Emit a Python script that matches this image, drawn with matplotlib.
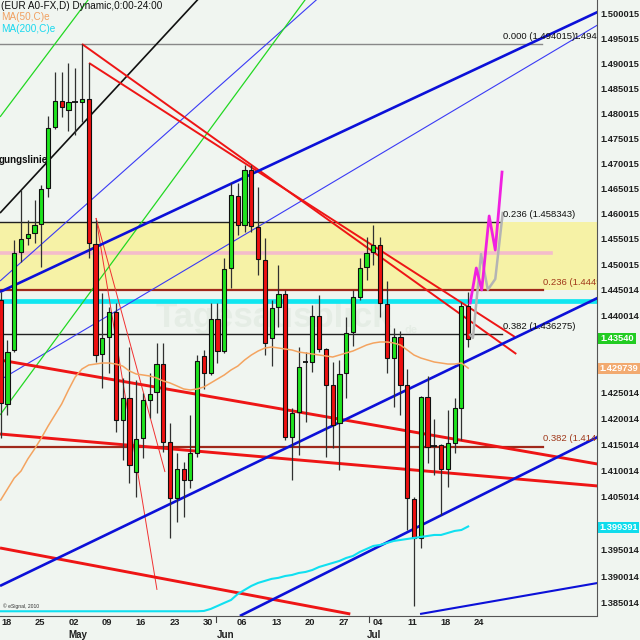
import numpy as np
import matplotlib
matplotlib.use('Agg')
import matplotlib.pyplot as plt
from matplotlib.ticker import NullLocator
from matplotlib.patches import Rectangle
import matplotlib.transforms as mtrans

plt.rcParams['font.family'] = ['Liberation Sans', 'DejaVu Sans']

# ---------------- data ----------------
opens = [1.4430, 1.4228, 1.4333, 1.4524, 1.4552, 1.4562, 1.4579, 1.4651, 1.4772, 1.4824,
         1.4806, 1.48225, 1.4822, 1.4828, 1.4540, 1.4325, 1.4358, 1.4407, 1.4197, 1.4240,
         1.4098, 1.4163, 1.4236, 1.4251, 1.4305, 1.4155, 1.4048, 1.4103, 1.4082, 1.4134,
         1.4321, 1.4288, 1.4393, 1.4331, 1.4493, 1.4635, 1.4577, 1.4686, 1.4573, 1.4508,
         1.4356, 1.4416, 1.4442, 1.4165, 1.4213, 1.43090, 1.4309, 1.4399, 1.4334, 1.4265,
         1.4192, 1.4288, 1.4368, 1.4436, 1.4495, 1.4524, 1.4538, 1.4422, 1.4317, 1.4358,
         1.4265, 1.4046, 1.3972, 1.4242, 1.41470, 1.4149, 1.4103, 1.4153, 1.4220, 1.4418]
highs = [1.4446, 1.4352, 1.4548, 1.4647, 1.4587, 1.4627, 1.4657, 1.4794, 1.4882, 1.4883,
         1.4901, 1.4891, 1.4939, 1.4901, 1.4587, 1.4444, 1.4416, 1.4424, 1.4278, 1.4338,
         1.4274, 1.4249, 1.4288, 1.4346, 1.4346, 1.4192, 1.4134, 1.4117, 1.4207, 1.4323,
         1.4333, 1.4424, 1.4424, 1.4512, 1.4661, 1.4661, 1.4696, 1.4696, 1.4653, 1.4552,
         1.4430, 1.4499, 1.4450, 1.4220, 1.4338, 1.4329, 1.4420, 1.4440, 1.4336, 1.4309,
         1.4313, 1.4397, 1.4450, 1.4512, 1.4554, 1.4577, 1.4554, 1.4467, 1.4375, 1.4370,
         1.4296, 1.4050, 1.4244, 1.4282, 1.4199, 1.4151, 1.4217, 1.4240, 1.4426, 1.4446]
lows = [1.4163, 1.4207, 1.4329, 1.4505, 1.4538, 1.4542, 1.4495, 1.4633, 1.4768, 1.4792,
        1.4764, 1.4756, 1.4782, 1.4512, 1.4309, 1.4259, 1.4288, 1.4174, 1.4121, 1.4077,
        1.4050, 1.4124, 1.4201, 1.4211, 1.4136, 1.3972, 1.4002, 1.4012, 1.4067, 1.4126,
        1.4257, 1.4284, 1.4307, 1.4327, 1.4454, 1.4558, 1.4564, 1.4564, 1.4479, 1.4323,
        1.4301, 1.4377, 1.4159, 1.4082, 1.4130, 1.4193, 1.4290, 1.4329, 1.4126, 1.4144,
        1.4101, 1.4240, 1.4340, 1.4430, 1.4469, 1.4499, 1.4397, 1.4288, 1.4222, 1.4207,
        1.3987, 1.3844, 1.3953, 1.4115, 1.4092, 1.4016, 1.4069, 1.4134, 1.4159, 1.4338]
closes = [1.4230, 1.4329, 1.4522, 1.4550, 1.4560, 1.4577, 1.4649, 1.4770, 1.4824, 1.4812,
          1.4822, 1.48215, 1.4828, 1.4542, 1.4323, 1.4356, 1.4407, 1.4197, 1.4240, 1.4111,
          1.4161, 1.4236, 1.4247, 1.4305, 1.4155, 1.4048, 1.4103, 1.4082, 1.4134, 1.4311,
          1.4288, 1.4393, 1.4331, 1.4491, 1.4637, 1.4577, 1.4686, 1.4575, 1.4510, 1.4346,
          1.4414, 1.4442, 1.4165, 1.4211, 1.4300, 1.43080, 1.4399, 1.4334, 1.4265, 1.4188,
          1.4286, 1.4366, 1.4436, 1.4493, 1.4522, 1.4538, 1.4424, 1.4317, 1.4358, 1.4265,
          1.4048, 1.3972, 1.4242, 1.4145, 1.41460, 1.4103, 1.4153, 1.4220, 1.4418, 1.4354]

ma50 = [1.40442, 1.40651, 1.40860, 1.40994, 1.41224, 1.41416, 1.41626, 1.41857, 1.42069, 1.42281,
        1.42551, 1.42802, 1.42957, 1.43034, 1.43053, 1.43073, 1.43073, 1.43053, 1.43014, 1.42918,
        1.42860, 1.42841, 1.42821, 1.42783, 1.42725, 1.42686, 1.42629, 1.42571, 1.42551, 1.42571,
        1.42609, 1.42686, 1.42764, 1.42841, 1.42938, 1.43014, 1.43131, 1.43228, 1.43306, 1.43364,
        1.43383, 1.43364, 1.43344, 1.43325, 1.43286, 1.43267, 1.43248, 1.43228, 1.43209, 1.43189,
        1.43228, 1.43267, 1.43306, 1.43364, 1.43422, 1.43461, 1.43481, 1.43481, 1.43461, 1.43422,
        1.43325, 1.43228, 1.43170, 1.43131, 1.43092, 1.43073, 1.43053, 1.43053, 1.43073, 1.42974]
ma200 = [1.3834] * 30 + [
        1.38346, 1.38384, 1.38440, 1.38497, 1.38552, 1.38665, 1.38741, 1.38816, 1.38873, 1.38911,
        1.38949, 1.38968, 1.39003, 1.39022, 1.39060, 1.39079, 1.39116, 1.39173, 1.39211, 1.39249,
        1.39287, 1.39343, 1.39381, 1.39456, 1.39513, 1.39570, 1.39589, 1.39627, 1.39664, 1.39683,
        1.39702, 1.39721, 1.39740, 1.39759, 1.39778, 1.39778, 1.39816, 1.39854, 1.39872, 1.39939]

date_labels = ['18', '25', '02', '09', '16', '23', '30', '06', '13', '20', '27', '04', '11', '18', '24']
date_pos = [0.80, 5.74, 10.75, 15.69, 20.68, 25.68, 30.60, 35.62, 40.68, 45.68, 50.63, 55.63, 60.74, 65.73, 70.51]
month_labels = ['May', 'Jun', 'Jul']
month_pos = [11.34, 33.21, 55.03]
month_sep = [31.78, 54.3]

y_ticks = [1.500015, 1.495015, 1.490015, 1.485015, 1.480015, 1.475015, 1.470015, 1.465015,
           1.460015, 1.455015, 1.450015, 1.445014, 1.440014, 1.435014, 1.430014, 1.425014,
           1.420014, 1.415014, 1.410014, 1.405014, 1.400014, 1.395014, 1.390014, 1.385014]
# labels hidden behind the price boxes on the axis are left empty
hidden_ticks = [1.435014, 1.430014, 1.400014]
y_tick_labels = ['' if v in hidden_ticks else '%.6f' % v for v in y_ticks]

# trendlines: (x0, p0, x1, p1)
thick_blue = [(-0.1, 1.44457, 88.1, 1.50042), (-0.1, 1.38816, 88.1, 1.44339),
              (35.3, 1.38252, 88.1, 1.41645)]
mid_blue = [(61.9, 1.38289, 88.1, 1.38871)]
thin_blue = [(-0.1, 1.42744, 88.1, 1.49778), (-0.1, 1.44671, 47.9, 1.50449)]
black_trend = [(-0.1, 1.46010, 30.4, 1.50490)]
green_trend = [(-0.1, 1.47924, 14.0, 1.50490), (-0.1, 1.42069, 46.0, 1.50490)]
red_mid = [(12.0, 1.49393, 76.1, 1.43248), (13.04, 1.49009, 75.9, 1.43579)]
red_thick = [(-0.1, 1.43131, 88.1, 1.41128), (-0.1, 1.41703, 88.1, 1.40709),
             (-0.1, 1.39532, 51.6, 1.38289)]
red_thin = [(14.07, 1.45912, 24.25, 1.40975), (14.07, 1.45912, 23.07, 1.38741)]

# horizontal levels
fib_zero = 1.49393
fib_236_hi = 1.458343
pink_level = 1.45227
fib_236_lo = 1.44490
cyan_level = 1.44286
fib_382_hi = 1.436275
fib_382_lo = 1.41460

proj_magenta_x = [69.3, 70.2, 71.0, 72.1, 73.0, 74.0]
proj_magenta_p = [1.44242, 1.44927, 1.44496, 1.45952, 1.45280, 1.46823]
proj_gray_x = [69.3, 69.7, 70.9, 71.9, 73.0, 74.1]
proj_gray_p = [1.4362, 1.4356, 1.4520, 1.4450, 1.4471, 1.4601]

last_price = '1.43540'
ma50_last = '1.429739'
ma200_last = '1.399391'

# ---------------- figure ----------------
BG = '#f0f5f0'
W, H = 640, 640
fig = plt.figure(figsize=(6.4, 6.4), dpi=100)
fig.patch.set_facecolor(BG)
ax = fig.add_axes([0, 24.5 / H, 597.3 / W, 615.5 / H])
ax.set_facecolor(BG)
ax.set_yscale('log')
ax.set_ylim(1.382607, 1.502863)
ax.set_xlim(-0.1033, 88.06)

xs = np.arange(len(opens))

# yellow zone and horizontal levels
ax.axhspan(fib_236_lo, fib_236_hi, color='#f6f2a6', zorder=0.5, lw=0)
ax.plot([-0.2, 79.9], [fib_zero] * 2, color='#888888', lw=1.0, zorder=1)
ax.plot([-0.2, 73.7], [fib_236_hi] * 2, color='#202020', lw=1.0, zorder=1)
ax.plot([-0.2, 81.2], [pink_level] * 2, color='#f4bccb', lw=2.6, zorder=1)
ax.plot([-0.2, 80.0], [fib_236_lo] * 2, color='#a0281a', lw=1.6, zorder=1)
ax.axhline(cyan_level, color='#10e6f0', lw=3.4, zorder=1)
ax.plot([-0.2, 74.0], [fib_382_hi] * 2, color='#202020', lw=1.0, zorder=1)
ax.plot([-0.2, 80.0], [fib_382_lo] * 2, color='#a0281a', lw=1.6, zorder=1)

# watermark
ax.text(40.3, 1.4395, 'Tagesausblick', fontsize=25, fontweight='bold', color='#e5ede5',
        ha='center', va='center', zorder=0.8)
ax.text(60.5, 1.4372, 'de', fontsize=8, fontweight='bold', color='#e5ede5',
        ha='center', va='center', zorder=0.8)

def draw_lines(lst, color, lw, z=2):
    for x0, p0, x1, p1 in lst:
        ax.plot([x0, x1], [p0, p1], color=color, lw=lw, zorder=z, solid_capstyle='butt')

draw_lines(thin_blue, '#3a3af5', 0.8)
draw_lines(green_trend, '#22d822', 0.9)
draw_lines(black_trend, '#101010', 1.2)
draw_lines(red_thin, '#f03030', 0.7)
draw_lines(red_mid, '#ee1515', 1.4)
draw_lines(red_thick, '#ee1515', 2.1)
draw_lines(thick_blue, '#0c10d8', 1.9)
draw_lines(mid_blue, '#0c10d8', 1.5)

# candles
for x, o, h, l, c in zip(xs, opens, highs, lows, closes):
    ax.vlines(x, l, h, color='#303030', lw=0.9, zorder=3)
    if abs(c - o) < 0.00015:
        ax.hlines((o + c) / 2, x - 0.42, x + 0.42, color='#101010', lw=1.3, zorder=4)
    else:
        col = '#1ee41e' if c > o else '#ee1010'
        ax.bar(x, abs(c - o), bottom=min(o, c), width=0.62, color=col,
               edgecolor='#101010', linewidth=0.8, zorder=4)

# moving averages
ax.plot(xs, ma50, color='#f4a460', lw=1.1, zorder=5)
ax.plot(xs, ma200, color='#10e0f0', lw=1.5, zorder=5)

# projections
ax.plot(proj_gray_x, proj_gray_p, color='#b4b4b4', lw=1.8, zorder=6)
ax.plot(proj_magenta_x, proj_magenta_p, color='#f020e0', lw=2.0, zorder=7)

# fib labels
lbl = dict(fontsize=6.8, va='bottom', ha='left', zorder=8, clip_on=True)
ax.text(74.1, 1.4946, '0.000 (1.494015)', color='#101010', **lbl)
ax.text(88.0, 1.4946, '1.494', color='#101010', fontsize=6.8, va='bottom', ha='right', zorder=8)
ax.text(74.1, 1.4590, '0.236 (1.458343)', color='#101010', **lbl)
ax.text(80.0, 1.4456, '0.236 (1.444903)', color='#a0381a', **lbl)
ax.text(74.1, 1.4370, '0.382 (1.436275)', color='#101010', **lbl)
ax.text(80.0, 1.4153, '0.382 (1.414599)', color='#a0381a', **lbl)

ax.text(-0.25, 1.4706, 'gungslinie', fontsize=7, fontweight='bold', color='#101010',
        ha='left', va='center', zorder=8)

# axes styling
for s in ['top', 'left']:
    ax.spines[s].set_visible(False)
ax.spines['right'].set_color('#555555')
ax.spines['bottom'].set_color('#555555')
ax.yaxis.tick_right()
ax.set_yticks(y_ticks)
ax.set_yticklabels(y_tick_labels)
ax.yaxis.set_minor_locator(NullLocator())
ax.tick_params(axis='y', which='both', length=0, pad=2.5, labelsize=6.7, colors='#202020')
for t in ax.get_yticklabels():
    t.set_fontweight('bold')
ax.set_xticks(date_pos)
ax.set_xticklabels(date_labels)
ax.tick_params(axis='x', length=0, pad=2, labelsize=6.7, colors='#202020')
for t in ax.get_xticklabels():
    t.set_fontweight('bold')
trans = mtrans.blended_transform_factory(ax.transData, ax.transAxes)
for lab, pos in zip(month_labels, month_pos):
    ax.text(pos, -0.0315, lab, transform=trans, ha='center', va='center', fontsize=7,
            fontweight='bold', color='#202020', clip_on=False)
for pos in month_sep:
    ax.plot([pos, pos], [0, -0.010], transform=trans, color='#404040', lw=0.8, clip_on=False)

ax.text(0.3, 1.3839, '\u00a9 eSignal, 2010', fontsize=3.6, color='#303030', ha='left', va='bottom', zorder=8)

# header
fig.text(1 / W, 1 - 1 / H, '(EUR A0-FX,D) Dynamic,0:00-24:00', fontsize=7.2, color='#101010', va='top', ha='left')
fig.text(1 / W, 1 - 12.5 / H, 'MA(50,C)e', fontsize=7.2, color='#f0a060', va='top', ha='left')
fig.text(1 / W, 1 - 24.5 / H, 'MA(200,C)e', fontsize=7.2, color='#18d8ee', va='top', ha='left')

# price boxes on the axis
def price_box(ytop, ybot, x1, face, text):
    fig.patches.append(Rectangle((598 / W, 1 - ybot / H), (x1 - 598) / W, (ybot - ytop) / H,
                                 transform=fig.transFigure, facecolor=face, edgecolor='none', zorder=5))
    fig.text((598 + x1) / 2 / W, 1 - (ytop + ybot) / 2 / H, text, color='white', fontsize=6.7,
             fontweight='bold', ha='center', va='center', zorder=6)

price_box(333, 344, 636, '#22cc22', last_price)
price_box(363, 374, 640, '#f2aa70', ma50_last)
price_box(522, 533, 639, '#10dcec', ma200_last)

fig.savefig('out.png', dpi=100, facecolor=BG)
